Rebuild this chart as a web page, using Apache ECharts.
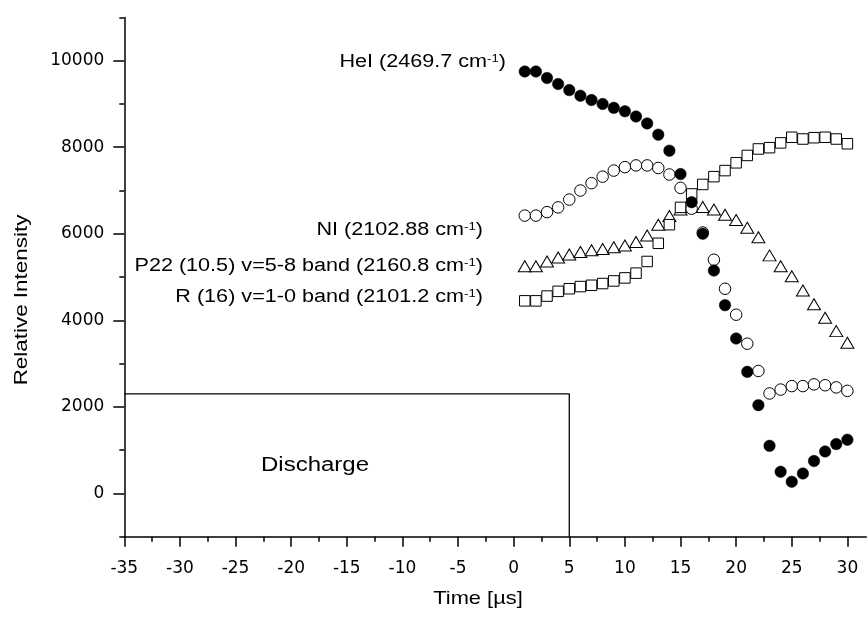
<!DOCTYPE html>
<html>
<head>
<meta charset="utf-8">
<script src="https://cdn.jsdelivr.net/npm/echarts@6/dist/echarts.min.js"></script>
<style>html,body{margin:0;padding:0;background:#fff}#c{width:867px;height:617px}</style>
</head>
<body>
<div id="c"></div>
<script>
// Time points [µs]
const times = [1,2,3,4,5,6,7,8,9,10,11,12,13,14,15,16,17,18,19,20,21,22,23,24,25,26,27,28,29,30];
// HeI (2469.7 cm-1) - filled circles
const heI = [9750,9750,9600,9460,9320,9190,9090,9000,8910,8830,8710,8550,8290,7920,7380,6730,6000,5150,4350,3580,2810,2040,1100,500,270,460,750,970,1140,1240];
// NI (2102.88 cm-1) - open circles
const nI = [6420,6420,6500,6610,6790,7000,7170,7320,7460,7540,7580,7580,7520,7370,7060,6580,6030,5400,4730,4130,3460,2830,2310,2400,2480,2480,2520,2500,2450,2370];
// P22 (10.5) v=5-8 band (2160.8 cm-1) - triangles
const p22 = [5250,5250,5360,5450,5520,5580,5620,5650,5690,5730,5810,5960,6210,6410,6560,6620,6620,6560,6440,6320,6140,5920,5500,5250,5020,4690,4370,4060,3750,3480];
// R (16) v=1-0 band (2101.2 cm-1) - squares
const r16 = [4450,4450,4560,4670,4730,4780,4810,4850,4910,4980,5090,5360,5780,6210,6610,6920,7140,7320,7460,7640,7810,7960,7990,8100,8230,8190,8220,8230,8190,8080];
// Discharge window outline (time, intensity)
const dischargeTime = [-35, 5, 5];
const dischargeLevel = [2300, 2300, -1000];
// Tick values
const xMajorTicks = [-35,-30,-25,-20,-15,-10,-5,0,5,10,15,20,25,30];
const xMinorTicks = [-32.5,-27.5,-22.5,-17.5,-12.5,-7.5,-2.5,2.5,7.5,12.5,17.5,22.5,27.5];
const yMajorTicks = [0,2000,4000,6000,8000,10000];

const pair = (xs, ys) => xs.map((x, i) => [x, ys[i]]);
const FONT = '"Liberation Sans", Arial, Helvetica, sans-serif';
const TICKFONT = '"DejaVu Sans", sans-serif';

const chart = echarts.init(document.getElementById('c'), null, {renderer: 'canvas'});
const axisLine = {show: true, onZero: false, lineStyle: {color: '#000', width: 1.5}};
const noLine = {show: false, onZero: false};

const supRich = {
  n: {fontFamily: FONT, fontSize: 18, color: '#000'},
  s: {fontFamily: FONT, fontSize: 11, color: '#000', verticalAlign: 'top', lineHeight: 13}
};
function label(text, sup, tail, x, y) {
  return {
    type: 'text', x: x, y: y, z: 50, scaleX: 1.2,
    style: {
      text: '{n|' + text + '}{s|' + sup + '}{n|' + tail + '}',
      rich: supRich, align: 'right', verticalAlign: 'middle'
    }
  };
}

const option = {
  animation: false,
  backgroundColor: '#fff',
  grid: {left: 124.3, right: 0.7, top: 17.4, bottom: 80.3, containLabel: false},
  xAxis: [
    {
      type: 'value', min: -35, max: 31.7, interval: 5,
      axisLine: axisLine,
      axisTick: {show: true, inside: false, length: 10, lineStyle: {color: '#000', width: 1.5}, customValues: xMajorTicks},
      axisLabel: {fontFamily: TICKFONT, fontSize: 17, color: '#000', margin: 23, customValues: xMajorTicks,
                  formatter: v => String(v)},
      splitLine: {show: false}
    },
    {
      type: 'value', min: -35, max: 31.7, position: 'bottom',
      axisLine: noLine,
      axisTick: {show: true, inside: false, length: 5, lineStyle: {color: '#000', width: 1.5}, customValues: xMinorTicks},
      axisLabel: {show: false},
      splitLine: {show: false}
    }
  ],
  yAxis: [
    {
      type: 'value', min: -1000, max: 11000, interval: 1000,
      axisLine: axisLine,
      axisTick: {show: true, inside: false, length: 5, lineStyle: {color: '#000', width: 1.5}},
      axisLabel: {show: false},
      splitLine: {show: false}
    },
    {
      type: 'value', min: -1000, max: 11000, position: 'left',
      axisLine: noLine,
      axisTick: {show: true, inside: false, length: 11, lineStyle: {color: '#000', width: 1.5}, customValues: yMajorTicks},
      axisLabel: {fontFamily: TICKFONT, fontSize: 17, color: '#000', margin: 20, customValues: yMajorTicks,
                  formatter: v => String(v)},
      splitLine: {show: false}
    }
  ],
  series: [
    {
      type: 'line', data: pair(dischargeTime, dischargeLevel), symbol: 'none',
      lineStyle: {color: '#000', width: 1.3}, silent: true, z: 1
    },
    {
      name: 'P22', type: 'scatter', data: pair(times, p22), symbol: 'triangle', symbolSize: [13, 11],
      itemStyle: {color: '#fff', borderColor: '#000', borderWidth: 1, opacity: 1}, z: 2
    },
    {
      name: 'R16', type: 'scatter', data: pair(times, r16), symbol: 'rect', symbolSize: 10.5,
      itemStyle: {color: '#fff', borderColor: '#000', borderWidth: 1, opacity: 1}, z: 3
    },
    {
      name: 'NI', type: 'scatter', data: pair(times, nI), symbol: 'circle', symbolSize: 11.5,
      itemStyle: {color: '#fff', borderColor: '#000', borderWidth: 1, opacity: 1}, z: 4
    },
    {
      name: 'HeI', type: 'scatter', data: pair(times, heI), symbol: 'circle', symbolSize: 11.5,
      itemStyle: {color: '#000', borderColor: '#000', borderWidth: 0.5, opacity: 1}, z: 5
    }
  ],
  graphic: [
    label('HeI (2469.7 cm', '-1', ')', 506, 62),
    label('NI (2102.88 cm', '-1', ')', 483, 230),
    label('P22 (10.5) v=5-8 band (2160.8 cm', '-1', ')', 483, 266),
    label('R (16) v=1-0 band (2101.2 cm', '-1', ')', 483, 297),
    {type: 'text', x: 315, y: 465, z: 50, scaleX: 1.2,
     style: {text: 'Discharge', fontFamily: FONT, fontSize: 20, fill: '#000', align: 'center', verticalAlign: 'middle'}},
    {type: 'text', x: 478, y: 599, z: 50, scaleX: 1.15,
     style: {text: 'Time [µs]', fontFamily: FONT, fontSize: 19, fill: '#000', align: 'center', verticalAlign: 'middle'}},
    {type: 'text', x: 22, y: 300, rotation: Math.PI / 2, z: 50, scaleX: 1.18,
     style: {text: 'Relative Intensity', fontFamily: FONT, fontSize: 19, fill: '#000', align: 'center', verticalAlign: 'middle'}}
  ]
};
chart.setOption(option);
</script>
</body>
</html>
